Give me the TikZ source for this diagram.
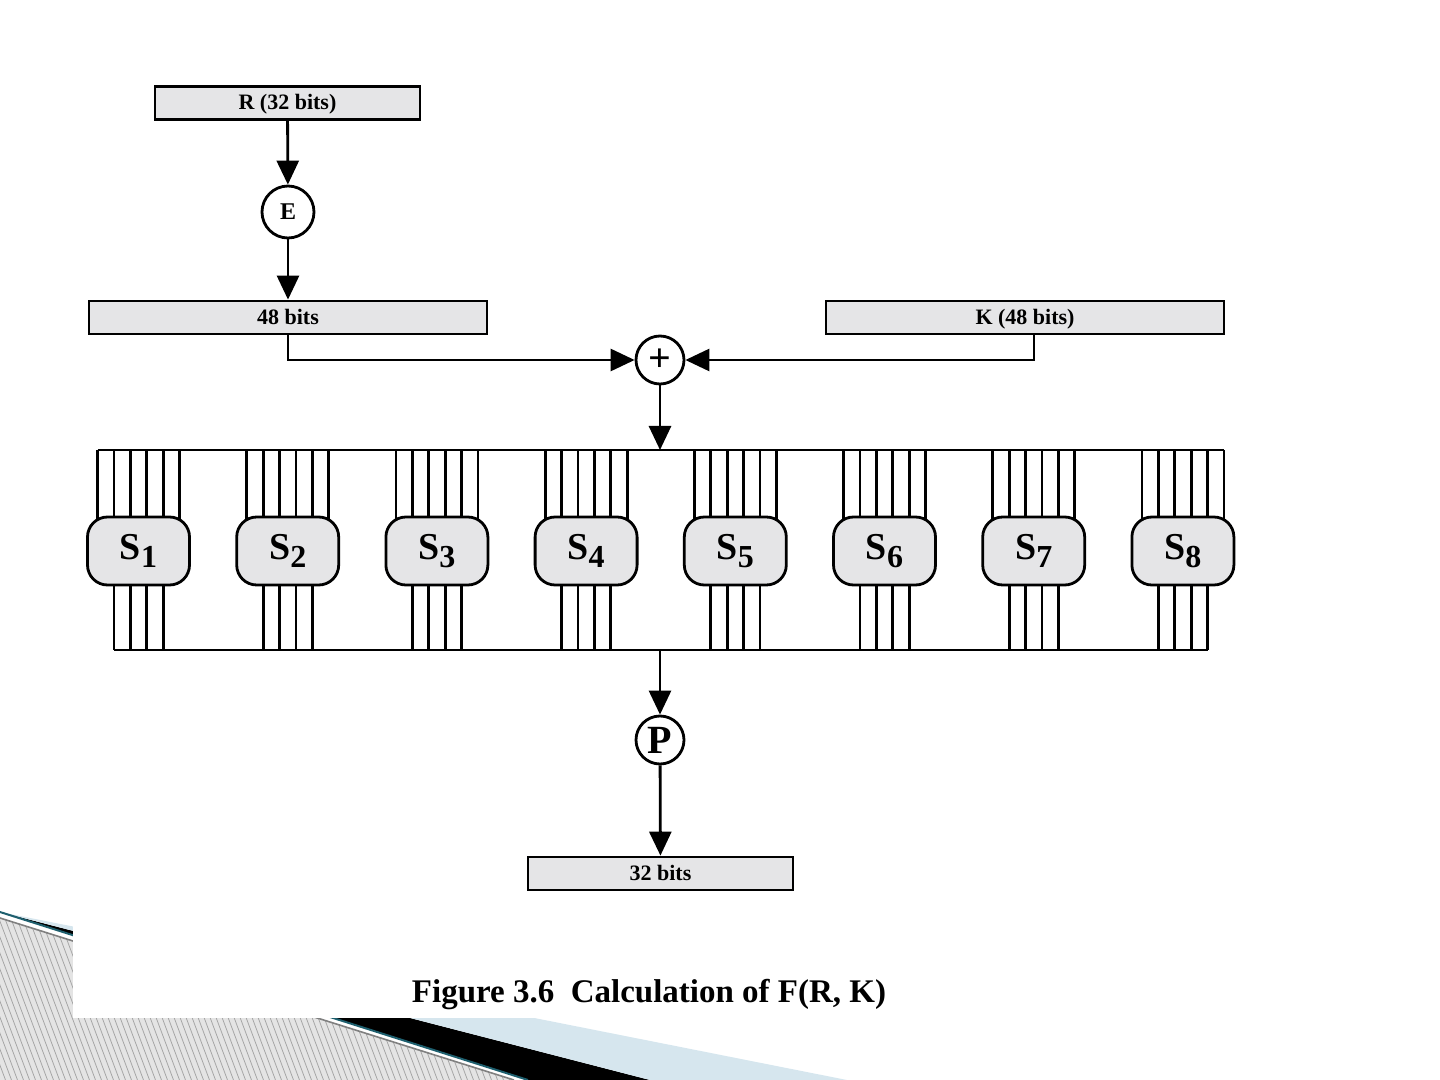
\documentclass[tikz,border=0pt]{standalone}
\usepackage{fontspec}
\setmainfont{Liberation Serif}
\usepackage{tikz}
\usetikzlibrary{arrows.meta,positioning}

\definecolor{boxgray}{RGB}{229,229,231}
\definecolor{hatchgray}{RGB}{228,228,228}
\definecolor{slideteal}{RGB}{30,95,110}
\definecolor{slideblue}{RGB}{214,230,238}
\newcommand{\sidx}[1]{\raisebox{-4pt}{\fontsize{16}{16}\selectfont #1}}

\begin{document}
\begin{tikzpicture}[x=0.5pt, y=-0.5pt, >={Triangle[length=12pt,width=11pt]},
                    line width=1.4pt,
                    every node/.style={align=center, font=\bfseries},
                    bitbox/.style={draw, rectangle, fill=boxgray, inner sep=0pt,
                                   minimum height=16.5pt, text height=9pt, text depth=2pt,
                                   font=\fontsize{11}{11}\selectfont\bfseries},
                    sbox/.style={draw, rectangle, rounded corners=10pt, fill=boxgray,
                                 minimum width=51pt, minimum height=34pt, inner sep=0pt,
                                 text height=12.5pt, text depth=4.5pt,
                                 font=\fontsize{19}{19}\selectfont\bfseries},
                    opcirc/.style={draw, circle, fill=white, inner sep=0pt}]
  \useasboundingbox (0,0) rectangle (1440,1080);

  % slide decoration
  \begin{scope}
    \fill[hatchgray] (0,918) -- (514,1080) -- (0,1080) -- cycle;
    \clip (0,918) -- (514,1080) -- (0,1080) -- cycle;
    \foreach \hx in {-80,-74,...,520}
      \draw[gray!70, line width=0.4pt] (\hx,900) -- ++(75,200);
  \end{scope}
  \draw[gray, line width=0.8pt] (0,918) -- (514,1080);
  \fill[black] (0,912) -- (528,1080) -- (650,1080) -- cycle;
  \fill[slideblue] (0,912) -- (650,1080) -- (847,1080) -- cycle;
  \draw[slideteal, line width=1pt] (0,912) -- (528,1080);
  \fill[white] (73,0) rectangle (1440,1018);

  % Define nodes
  \node[bitbox, minimum width=132.5pt] (rin) at (287.5,103) {R (32 bits)};
  \node[opcirc, minimum size=26pt, font=\fontsize{12}{12}\selectfont\bfseries] (exp) at (288,212) {E};
  \node[bitbox, minimum width=199pt] (ebits) at (288,317.5) {48 bits};
  \node[bitbox, minimum width=199pt] (key) at (1025,317.5) {K (48 bits)};
  \node[opcirc, minimum size=24pt, font=\fontsize{20}{20}\selectfont\bfseries] (xor) at (660,360) {+};
  \coordinate (busin) at (660,450);
  \coordinate (busout) at (660,650);

  % S-boxes and their wires
  \draw (97.5,450) -- (1224,450);
  \draw (113.9,650) -- (1207.5,650);
  \foreach \i in {1,...,8} {
    \pgfmathsetmacro{\sx}{138.5+149.2*(\i-1)}
    \foreach \dx in {-41,-24.6,-8.2,8.2,24.6,41}
      \draw ({\sx+\dx},450) -- ({\sx+\dx},551);
    \foreach \dx in {-24.6,-8.2,8.2,24.6}
      \draw ({\sx+\dx},551) -- ({\sx+\dx},650);
    \node[sbox] (s\i) at (\sx,551) {S\sidx{\i}};
  }

  \node[opcirc, minimum size=24pt, font=\fontsize{20}{20}\selectfont\bfseries] (perm) at (660,740) {P};
  \node[bitbox, minimum width=132.5pt] (rout) at (660.5,873.5) {32 bits};

  % Define paths
  \draw[->] (rin) -- (exp);
  \draw[->] (exp) -- (ebits);
  \draw[->] (ebits.south) |- (xor);
  \draw[->] ([xshift=4.5pt]key.south) |- (xor);
  \draw[->] (xor) -- (busin);
  \draw[->] (busout) -- (perm);
  \draw[->] (perm) -- (rout);

  \node[font=\fontsize{16.5}{16.5}\selectfont\bfseries] (caption) at (649,995)
    {Figure 3.6\hspace{0.5em}Calculation of F(R, K)};
\end{tikzpicture}
\end{document}
